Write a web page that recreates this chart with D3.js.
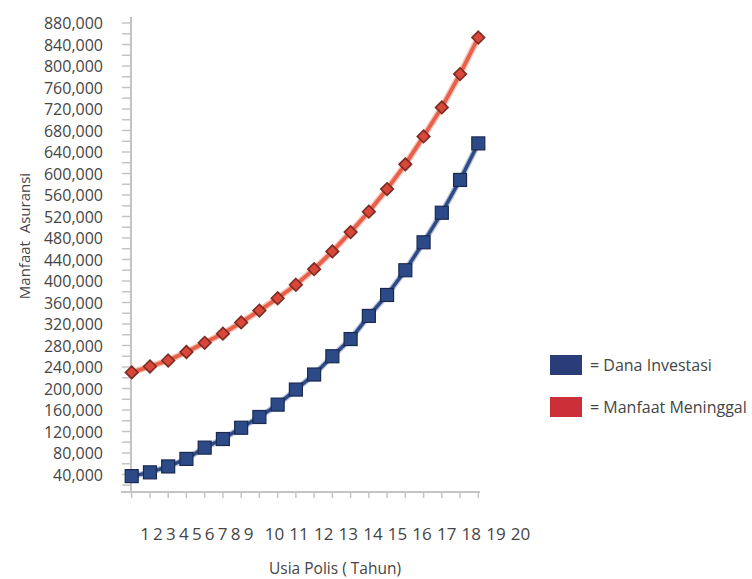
<!DOCTYPE html>
<html>
<head>
<meta charset="utf-8">
<script src="https://cdn.jsdelivr.net/npm/d3@7"></script>
<style>
  html, body { margin: 0; padding: 0; background: #fff; }
  svg { display: block; font-family: "Open Sans", "Noto Sans", sans-serif; }
</style>
</head>
<body>
<svg id="chart" width="752" height="579"></svg>
<script>
// ---- data ----
const years = [1,2,3,4,5,6,7,8,9,10,11,12,13,14,15,16,17,18,19,20];
const danaInvestasi = [37000,44000,55000,69000,90000,106000,127000,147000,170000,198000,226000,260000,292000,335000,374000,420000,472000,527000,588000,656000];
const manfaatMeninggal = [230000,241000,252000,268000,285000,302000,323000,345000,368000,393000,422000,455000,491000,529000,571000,617000,669000,723000,785000,853000];
const xTickLabels = ["1","2","3","4","5","6","7","8","9","10","11","12","13","14","15","16","17","18","19","20"];
const yTickValues = [40000,80000,120000,160000,200000,240000,280000,320000,360000,400000,440000,480000,520000,560000,600000,640000,680000,720000,760000,800000,840000,880000];
const legendItems = ["= Dana Investasi", "= Manfaat Meninggal"];
const xTitle = "Usia Polis ( Tahun)";
const yTitle = "Manfaat\u00a0\u00a0Asuransi";

// ---- layout ----
const svg = d3.select("#chart");
const x = d3.scaleLinear().domain([1, 20]).range([131.7, 478.3]);
const y = d3.scaleLinear().domain([0, 880000]).range([496, 23]);
const axisX = 131;
const baseY = 492;
const labelX = d3.scaleLinear().domain([1, 9, 10, 20]).range([145, 248.5, 274.5, 520.5]);

const grey = "#c4c4c4";
const textCol = "#454545";

// y axis line
svg.append("line").attr("x1", axisX).attr("x2", axisX).attr("y1", 17).attr("y2", baseY)
  .attr("stroke", grey).attr("stroke-width", 2);
// y ticks every 20,000
const yTicksAll = d3.range(20000, 900000, 20000);
svg.append("g").selectAll("line").data(yTicksAll).join("line")
  .attr("x1", axisX - 9).attr("x2", axisX)
  .attr("y1", d => y(d)).attr("y2", d => y(d))
  .attr("stroke", grey).attr("stroke-width", 1.5);
// y labels
svg.append("g").selectAll("text").data(yTickValues).join("text")
  .attr("x", 103).attr("y", d => y(d))
  .attr("text-anchor", "end").attr("dominant-baseline", "central")
  .attr("font-size", 16).attr("fill", textCol)
  .text(d => d3.format(",")(d));

// x axis line
svg.append("line").attr("x1", 121).attr("x2", 480).attr("y1", baseY).attr("y2", baseY)
  .attr("stroke", grey).attr("stroke-width", 2);
svg.append("g").selectAll("line").data(years).join("line")
  .attr("x1", d => x(d)).attr("x2", d => x(d))
  .attr("y1", baseY).attr("y2", baseY + 6)
  .attr("stroke", grey).attr("stroke-width", 1.5);
// x labels
svg.append("g").selectAll("text").data(xTickLabels).join("text")
  .attr("x", (d, i) => labelX(years[i])).attr("y", 533)
  .attr("text-anchor", "middle").attr("dominant-baseline", "central")
  .attr("font-size", 17).attr("fill", textCol)
  .text(d => d);

// titles
svg.append("text").attr("x", 335).attr("y", 568)
  .attr("text-anchor", "middle").attr("dominant-baseline", "central")
  .attr("font-size", 15.5).attr("fill", textCol).text(xTitle);
svg.append("text").attr("transform", "translate(24,236) rotate(-90)")
  .attr("text-anchor", "middle").attr("dominant-baseline", "central")
  .attr("font-size", 15).attr("fill", textCol).text(yTitle);

// lines
const line = (vals) => d3.line().x((d, i) => x(years[i])).y(d => y(d))(vals);

svg.append("path").attr("d", line(danaInvestasi))
  .attr("fill", "none").attr("stroke", "#6f86b8").attr("stroke-width", 6).attr("opacity", 0.5);
svg.append("path").attr("d", line(danaInvestasi))
  .attr("fill", "none").attr("stroke", "#2f4a85").attr("stroke-width", 3.5);

svg.append("path").attr("d", line(manfaatMeninggal))
  .attr("fill", "none").attr("stroke", "#f29a86").attr("stroke-width", 6.5).attr("opacity", 0.6);
svg.append("path").attr("d", line(manfaatMeninggal))
  .attr("fill", "none").attr("stroke", "#e8604a").attr("stroke-width", 3.8);

// markers
const sq = 13;
svg.append("g").selectAll("rect").data(danaInvestasi).join("rect")
  .attr("x", (d, i) => x(years[i]) - sq / 2).attr("y", d => y(d) - sq / 2)
  .attr("width", sq).attr("height", sq)
  .attr("fill", "#2d4a88").attr("stroke", "#1a2a4f").attr("stroke-width", 1.2);

const dm = 6.3;
svg.append("g").selectAll("path").data(manfaatMeninggal).join("path")
  .attr("d", (d, i) => {
    const cx = x(years[i]), cy = y(d);
    return `M${cx},${cy - dm}L${cx + dm},${cy}L${cx},${cy + dm}L${cx - dm},${cy}Z`;
  })
  .attr("fill", "#d9473b").attr("stroke", "#7a2c22").attr("stroke-width", 1.6);

// legend
const legendColors = ["#2b3d78", "#cc2f38"];
const lg = svg.append("g").selectAll("g").data(legendItems).join("g")
  .attr("transform", (d, i) => `translate(550,${355 + i * 42})`);
lg.append("rect").attr("width", 32).attr("height", 20).attr("fill", (d, i) => legendColors[i]);
lg.append("text").attr("x", 40).attr("y", 10).attr("dominant-baseline", "central")
  .attr("font-size", 16).attr("fill", textCol).text(d => d);
</script>
</body>
</html>
